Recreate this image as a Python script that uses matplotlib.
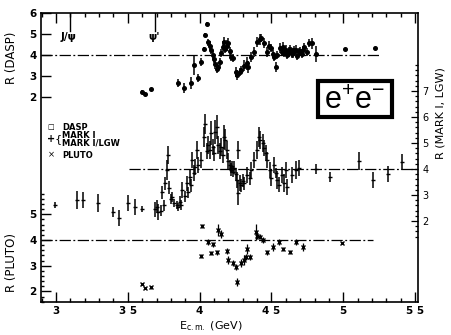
import matplotlib
matplotlib.use("Agg")
import matplotlib.pyplot as plt
import numpy as np
from matplotlib.patches import Rectangle
from matplotlib.ticker import FixedLocator

W, H = 452, 335

# DASP  (E_cm [GeV], R, error)
dasp_e = [3.60, 3.62, 3.66, 3.85, 3.89, 3.94, 3.96, 3.99, 4.01, 4.03,
          4.04, 4.05, 4.06, 4.07, 4.08, 4.09, 4.10, 4.11, 4.12, 4.13,
          4.14, 4.15, 4.16, 4.17, 4.18, 4.19, 4.20, 4.21, 4.22, 4.23,
          4.25, 4.26, 4.28, 4.29, 4.31, 4.33, 4.34, 4.36, 4.38, 4.40,
          4.42, 4.43, 4.45, 4.47, 4.48, 4.50, 4.51, 4.52, 4.53, 4.54,
          4.56, 4.57, 4.58, 4.59, 4.60, 4.61, 4.62, 4.63, 4.64, 4.65,
          4.66, 4.67, 4.68, 4.69, 4.70, 4.71, 4.72, 4.73, 4.75, 4.76,
          4.78, 4.81, 5.01, 5.22]
dasp_r = [2.24, 2.12, 2.36, 2.67, 2.43, 2.67, 3.52, 2.90, 3.67, 4.29,
          4.95, 5.48, 4.60, 4.45, 4.24, 4.00, 3.80, 3.55, 3.35, 3.45,
          3.67, 4.10, 4.40, 4.62, 4.30, 4.45, 4.57, 4.20, 3.90, 3.86,
          3.19, 3.05, 3.20, 3.29, 3.50, 3.60, 3.43, 3.90, 4.14, 4.62,
          4.75, 4.81, 4.57, 4.14, 4.45, 4.33, 4.05, 3.90, 3.43, 4.00,
          4.33, 4.15, 4.38, 4.10, 4.24, 4.00, 4.14, 4.30, 4.05, 4.10,
          4.25, 4.24, 3.95, 4.15, 4.20, 4.05, 4.25, 4.38, 4.15, 4.57,
          4.55, 4.05, 4.29, 4.33]
dasp_err = [0.08, 0.08, 0.08, 0.20, 0.25, 0.30, 0.45, 0.20, 0.20, 0.10,
            0.10, 0.10, 0.15, 0.20, 0.20, 0.20, 0.20, 0.20, 0.20, 0.20,
            0.20, 0.20, 0.25, 0.25, 0.20, 0.25, 0.25, 0.20, 0.20, 0.20,
            0.25, 0.25, 0.20, 0.20, 0.25, 0.30, 0.30, 0.25, 0.25, 0.25,
            0.25, 0.20, 0.25, 0.25, 0.20, 0.20, 0.20, 0.20, 0.25, 0.20,
            0.25, 0.20, 0.25, 0.20, 0.25, 0.20, 0.25, 0.20, 0.20, 0.25,
            0.20, 0.25, 0.20, 0.20, 0.20, 0.20, 0.20, 0.20, 0.20, 0.20,
            0.25, 0.40, 0.05, 0.05]

# MARK I / MARK I-LGW
mark_e = [2.99, 3.15, 3.19, 3.29, 3.40, 3.44, 3.50, 3.55, 3.60, 3.69,
          3.70, 3.71, 3.73, 3.74, 3.75, 3.76, 3.77, 3.78, 3.79, 3.80,
          3.81, 3.82, 3.84, 3.85, 3.86, 3.87, 3.88, 3.90, 3.91, 3.92,
          3.93, 3.94, 3.95, 3.96, 3.97, 3.98, 3.99, 4.01, 4.03, 4.04,
          4.05, 4.06, 4.07, 4.08, 4.09, 4.10, 4.11, 4.12, 4.13, 4.14,
          4.15, 4.16, 4.17, 4.18, 4.19, 4.20, 4.21, 4.215, 4.22, 4.225,
          4.23, 4.24, 4.25, 4.26, 4.265, 4.27, 4.28, 4.29, 4.30, 4.31,
          4.33, 4.35, 4.36, 4.38, 4.40, 4.41, 4.42, 4.44, 4.45, 4.46,
          4.47, 4.49, 4.50, 4.52, 4.53, 4.54, 4.55, 4.57, 4.59, 4.60,
          4.61, 4.64, 4.67, 4.69, 4.81, 4.91, 5.11, 5.21, 5.31, 5.41]
mark_r = [2.62, 2.81, 2.81, 2.69, 2.35, 2.12, 2.69, 2.54, 2.46, 2.45,
          2.54, 2.35, 2.40, 3.10, 2.60, 3.45, 3.96, 4.54, 3.27, 2.85,
          2.92, 2.70, 2.62, 2.55, 2.75, 2.62, 3.19, 2.95, 3.45, 3.10,
          3.69, 3.38, 4.35, 3.84, 4.08, 4.73, 4.15, 4.35, 5.23, 5.73,
          4.70, 4.92, 4.73, 5.38, 4.85, 4.60, 5.42, 5.62, 4.92, 4.70,
          4.85, 4.55, 5.23, 5.12, 4.73, 4.30, 4.15, 3.95, 4.04, 4.10,
          3.88, 4.04, 3.80, 3.58, 3.08, 4.73, 3.46, 3.38, 3.55, 3.46,
          3.77, 3.65, 3.96, 4.35, 4.73, 5.23, 5.12, 5.00, 4.80, 4.62,
          4.35, 3.96, 3.65, 4.15, 3.85, 3.58, 3.40, 3.77, 3.46, 3.96,
          3.30, 3.77, 3.96, 4.04, 4.00, 3.70, 4.30, 3.58, 3.80, 4.27]
mark_err = [0.12, 0.35, 0.30, 0.35, 0.20, 0.30, 0.30, 0.30, 0.10, 0.30,
            0.25, 0.30, 0.20, 0.25, 0.20, 0.25, 0.40, 0.35, 0.25, 0.20,
            0.20, 0.15, 0.15, 0.15, 0.20, 0.20, 0.30, 0.20, 0.30, 0.20,
            0.30, 0.25, 0.30, 0.30, 0.30, 0.35, 0.30, 0.30, 0.40, 0.40,
            0.30, 0.35, 0.35, 0.45, 0.30, 0.30, 0.45, 0.45, 0.35, 0.30,
            0.35, 0.30, 0.45, 0.40, 0.35, 0.30, 0.20, 0.20, 0.20, 0.20,
            0.20, 0.25, 0.25, 0.30, 0.45, 0.35, 0.30, 0.25, 0.25, 0.25,
            0.30, 0.25, 0.30, 0.30, 0.35, 0.40, 0.35, 0.35, 0.30, 0.30,
            0.30, 0.30, 0.30, 0.30, 0.20, 0.35, 0.30, 0.30, 0.35, 0.30,
            0.30, 0.30, 0.35, 0.30, 0.20, 0.20, 0.35, 0.30, 0.30, 0.30]

# PLUTO
pluto_e = [3.60, 3.62, 3.66, 4.01, 4.02, 4.06, 4.08, 4.09, 4.12, 4.13,
           4.15, 4.19, 4.20, 4.23, 4.25, 4.26, 4.29, 4.31, 4.32, 4.33,
           4.35, 4.39, 4.40, 4.42, 4.44, 4.47, 4.51, 4.55, 4.58, 4.63,
           4.67, 4.72, 4.99]
pluto_r = [2.28, 2.13, 2.16, 3.38, 4.54, 3.92, 3.49, 3.84, 3.53, 4.39,
           4.23, 3.57, 3.22, 3.11, 2.95, 2.37, 3.11, 3.22, 3.34, 3.65,
           3.34, 4.31, 4.16, 4.12, 4.00, 3.53, 3.73, 3.92, 3.65, 3.53,
           3.92, 3.73, 3.88]
pluto_err = [0.05, 0.05, 0.05, 0.08, 0.08, 0.10, 0.08, 0.10, 0.10, 0.25,
             0.15, 0.12, 0.15, 0.12, 0.12, 0.15, 0.15, 0.20, 0.12, 0.20,
             0.12, 0.30, 0.12, 0.10, 0.10, 0.10, 0.15, 0.10, 0.08, 0.08,
             0.10, 0.15, 0.05]

x_ticks = [3.0, 3.5, 4.0, 4.5, 5.0, 5.5]
x_tick_labels = ["3", "3 5", "4", "4 5", "5", "5 5"]
JPSI_E, PSI2_E = 3.097, 3.686
DASH = (0, (9, 2, 1.5, 2))


def px(x, y):
    """pixel position (from top left) -> figure fraction"""
    return x / W, 1 - y / H


def main():
    plt.rcParams['font.family'] = ['DejaVu Sans']
    fig = plt.figure(figsize=(W / 100, H / 100), dpi=100)
    rect = [41 / W, 1 - 302 / H, (418 - 41) / W, (302 - 13) / H]

    ax = fig.add_axes(rect)
    ax_p = fig.add_axes(rect)
    ax_m = fig.add_axes(rect)
    xlim = (2.896, 5.52)
    for a in (ax, ax_p, ax_m):
        a.set_xlim(*xlim)
    ax.set_ylim(6 - 289 / 21, 6)
    ax_p.set_ylim(4 - 62 / 25.7, 4 + 227 / 25.7)
    ax_m.set_ylim(4 - 133 / 26, 4 + 156 / 26)

    tick_font = dict(fontsize=7.5, fontweight='bold')

    # frame + x axis
    for s in ax.spines.values():
        s.set_linewidth(1.2)
    ax.set_xticks(x_ticks)
    ax.set_xticklabels(x_tick_labels, **tick_font)
    ax.xaxis.set_minor_locator(FixedLocator(np.arange(2.9, 5.51, 0.1)))
    ax.tick_params(axis='x', which='both', direction='in', top=True,
                   bottom=True, width=1, pad=3)
    ax.tick_params(axis='x', which='major', length=7)
    ax.tick_params(axis='x', which='minor', length=3)
    ax.set_yticks([2, 3, 4, 5, 6])
    ax.set_yticklabels(["2", "3", "4", "5", "6"], **tick_font)
    ax.tick_params(axis='y', direction='in', length=7, width=1, pad=3)

    for a in (ax_p, ax_m):
        a.patch.set_visible(False)
        for s in a.spines.values():
            s.set_visible(False)
        a.set_xticks([])

    ax_p.set_yticks([2, 3, 4, 5])
    ax_p.set_yticklabels(["2", "3", "4", "5"], **tick_font)
    ax_p.yaxis.set_minor_locator(FixedLocator(np.arange(1.6, 5.9, 0.2)))
    ax_p.tick_params(axis='y', which='both', direction='in', width=1, pad=3)
    ax_p.tick_params(axis='y', which='major', length=7)
    ax_p.tick_params(axis='y', which='minor', length=2.5)

    ax_m.yaxis.tick_right()
    ax_m.set_yticks([2, 3, 4, 5, 6, 7])
    ax_m.set_yticklabels(["2", "3", "4", "5", "6", "7"], fontsize=7)
    ax_m.yaxis.set_minor_locator(FixedLocator(np.arange(1.4, 8.1, 0.2)))
    ax_m.tick_params(axis='y', which='both', direction='in', width=0.9,
                     pad=3, right=True, left=False)
    ax_m.tick_params(axis='y', which='major', length=5)
    ax_m.tick_params(axis='y', which='minor', length=2.5)

    # reference lines at R = 4
    ax.plot([xlim[0], 5.25], [4, 4], color='k', lw=0.9, ls=DASH)
    ax_p.plot([xlim[0], 5.21], [4, 4], color='k', lw=0.9, ls=DASH)
    ax_m.plot([3.51, xlim[1]], [4, 4], color='k', lw=0.9, ls=DASH)

    # data
    ax.errorbar(dasp_e, dasp_r, yerr=dasp_err, fmt='o', ms=2.6, color='k',
                elinewidth=1.1, capsize=0)
    ax_m.errorbar(mark_e, mark_r, yerr=mark_err, fmt='_', ms=3, mew=1,
                  color='k', elinewidth=1.1, capsize=0)
    ax_p.errorbar(pluto_e, pluto_r, yerr=pluto_err, fmt='x', ms=2.3,
                  mew=1, color='k', elinewidth=0.9, capsize=0)

    # J/psi and psi' markers
    for e in (JPSI_E, PSI2_E):
        ax.plot([e, e], [6, 5.15], color='k', lw=1)
    ax.text(3.09, 4.88, "J/ψ", fontsize=7.5, fontweight='bold',
            ha='center', va='center')
    ax.text(PSI2_E, 4.88, "ψ'", fontsize=7.5, fontweight='bold',
            ha='center', va='center')

    # axis titles
    fig.text(*px(12, 58), "R (DASP)", rotation=90, fontsize=8.5,
             ha='center', va='center')
    fig.text(*px(12, 262), "R (PLUTO)", rotation=90, fontsize=8.5,
             ha='center', va='center')
    fig.text(*px(441, 113), "R (MARK I, LGW)", rotation=90, fontsize=8,
             ha='center', va='center')
    fig.text(*px(211, 326), r"E$_{\mathrm{c.m.}}$ (GeV)", fontsize=8,
             ha='center', va='center')

    # legend
    leg = dict(fontsize=6, fontweight='bold', va='center', ha='left')
    fig.text(*px(47, 127), "□", fontsize=5, va='center', ha='left')
    fig.text(*px(62, 127), "DASP", **leg)
    fig.text(*px(47, 139), "+", fontsize=7, fontweight='bold',
             va='center', ha='left')
    fig.text(*px(54.5, 139), "{", fontsize=8, va='center', ha='left')
    fig.text(*px(62, 135), "MARK I", **leg)
    fig.text(*px(62, 143.5), "MARK I/LGW", **leg)
    fig.text(*px(48, 155), "×", fontsize=6, va='center', ha='left')
    fig.text(*px(62, 155), "PLUTO", **leg)

    # e+e- box
    x0, y0 = px(318, 117)
    x1, y1 = px(392, 81)
    fig.add_artist(Rectangle((x0, y0), x1 - x0, y1 - y0, fill=False,
                             lw=3, ec='k', transform=fig.transFigure))
    fig.text(*px(355, 101), r"$\mathregular{e^{+}e^{-}}$",
             fontsize=22, family='Liberation Sans', ha='center',
             va='center')

    fig.savefig("out.png", dpi=100)


if __name__ == "__main__":
    main()
